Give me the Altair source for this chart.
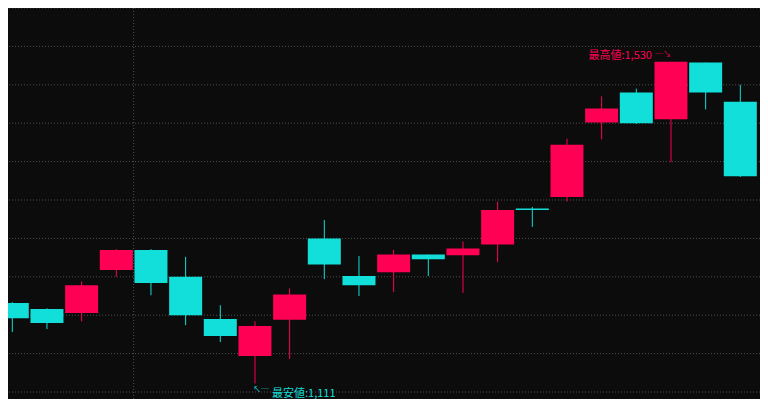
import altair as alt
import pandas as pd

# --- data (22 daily candles) ---
opens  = [1216, 1208, 1203, 1259, 1285, 1250, 1195, 1147, 1194, 1300, 1251,
          1256, 1279, 1278, 1292, 1339, 1354, 1451, 1490, 1455, 1529, 1478]
highs  = [1217, 1209, 1244, 1286, 1286, 1276, 1213, 1192, 1235, 1324, 1277,
          1285, 1279, 1296, 1348, 1341, 1430, 1485, 1495, 1530, 1529, 1500]
lows   = [1178, 1182, 1192, 1250, 1226, 1187, 1165, 1111, 1143, 1247, 1225,
          1230, 1251, 1229, 1269, 1315, 1348, 1429, 1449, 1399, 1468, 1380]
closes = [1196, 1190, 1239, 1285, 1242, 1200, 1173, 1186, 1227, 1266, 1239,
          1279, 1273, 1287, 1337, 1337, 1422, 1469, 1450, 1530, 1490, 1381]
period_breaks = [4.5]
grid_values = [1100, 1150, 1200, 1250, 1300, 1350, 1400, 1450, 1500, 1550, 1600]

UP = "#ff0055"
DOWN = "#12dfd9"
BG = "#0c0c0c"
GRID = "#4e4e4e"

idx = list(range(1, len(opens) + 1))
df = pd.DataFrame({"i": idx, "open": opens, "high": highs, "low": lows, "close": closes})
df["dir"] = ["up" if c >= o else "down" for o, c in zip(opens, closes)]

hi_i = highs.index(max(highs))
lo_i = lows.index(min(lows))
hi_df = pd.DataFrame({"i": [idx[hi_i]], "v": [highs[hi_i]], "label": [f"最高値:{highs[hi_i]:,}"]})
lo_df = pd.DataFrame({"i": [idx[lo_i]], "v": [lows[lo_i]], "label": [f"最安値:{lows[lo_i]:,}"]})
br_df = pd.DataFrame({"i": period_breaks})
gr_df = pd.DataFrame({"v": grid_values})

xs = alt.Scale(domain=[0.876, 22.568], nice=False, zero=False)
ys = alt.Scale(domain=[1090.9, 1600], nice=False, zero=False)
color = alt.Color("dir:N", scale=alt.Scale(domain=["up", "down"], range=[UP, DOWN]), legend=None)

base = alt.Chart(df)

hgrid = alt.Chart(gr_df).mark_rule(color=GRID, strokeDash=[1, 2], strokeWidth=1).encode(
    y=alt.Y("v:Q", scale=ys, axis=None)
)

vgrid = alt.Chart(br_df).mark_rule(color=GRID, strokeDash=[1, 2], strokeWidth=1).encode(
    x=alt.X("i:Q", scale=xs, axis=None)
)

wicks = base.mark_rule(strokeWidth=1).encode(
    x=alt.X("i:Q", scale=xs, axis=None),
    y=alt.Y("low:Q", scale=ys, axis=None),
    y2="high:Q",
    color=color,
)

bodies = base.transform_calculate(
    x_lo="datum.i - 0.476", x_hi="datum.i + 0.476"
).mark_bar().encode(
    x=alt.X("x_lo:Q", scale=xs, axis=None),
    x2="x_hi:Q",
    y=alt.Y("open:Q", scale=ys, axis=None),
    y2="close:Q",
    color=color,
)

FONT = "Noto Sans CJK JP"
hi_text = alt.Chart(hi_df).mark_text(
    align="right", baseline="middle", dx=-19, dy=-6, font=FONT, fontSize=11, color=UP
).encode(x=alt.X("i:Q", scale=xs, axis=None), y=alt.Y("v:Q", scale=ys, axis=None), text="label:N")
hi_arrow = alt.Chart(hi_df).mark_text(
    align="left", baseline="middle", dx=-16, dy=-7, font=FONT, fontSize=8, color=UP
).encode(x=alt.X("i:Q", scale=xs, axis=None), y=alt.Y("v:Q", scale=ys, axis=None), text=alt.value("─↘"))

lo_text = alt.Chart(lo_df).mark_text(
    align="left", baseline="middle", dx=17, dy=10, font=FONT, fontSize=11, color=DOWN
).encode(x=alt.X("i:Q", scale=xs, axis=None), y=alt.Y("v:Q", scale=ys, axis=None), text="label:N")
lo_arrow = alt.Chart(lo_df).mark_text(
    align="left", baseline="middle", dx=-2, dy=6, font=FONT, fontSize=8, color=DOWN
).encode(x=alt.X("i:Q", scale=xs, axis=None), y=alt.Y("v:Q", scale=ys, axis=None), text=alt.value("↖─"))

chart = alt.layer(hgrid, vgrid, wicks, bodies, hi_text, hi_arrow, lo_text, lo_arrow).properties(
    width=752, height=391, background=BG, padding=0,
    autosize=alt.AutoSizeParams(type="none"),
).configure_view(stroke=None)

chart.save("out.html", embed_options={"renderer": "svg", "actions": False})
